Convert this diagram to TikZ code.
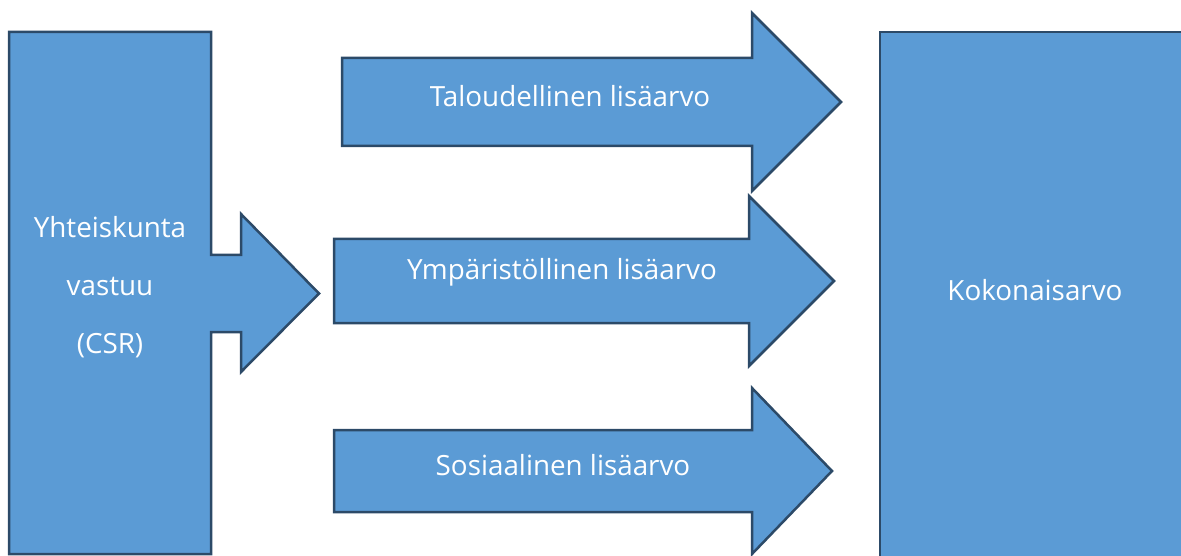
\documentclass[tikz,border=0pt]{standalone}
\usepackage{fontspec}
\setmainfont{Open Sans}
\definecolor{boxfill}{HTML}{5B9BD5}
\definecolor{boxline}{HTML}{2C4A68}
\begin{document}
\begin{tikzpicture}[x=1pt,y=-1pt,
  shapestyle/.style={fill=boxfill,draw=boxline,line width=2.5pt,line join=miter},
  lbl/.style={text=white,font=\fontsize{27.8}{58}\selectfont,align=center,inner sep=0pt}]
\useasboundingbox (0,0) rectangle (1181,556);
% left box with arrow
\draw[shapestyle] (9,32) -- (211,32) -- (211,255) -- (241,255) -- (241,214) -- (319,293.5)
  -- (241,372) -- (241,332) -- (211,332) -- (211,554) -- (9,554) -- cycle;
% arrows
\draw[shapestyle] (342,58) -- (752,58) -- (752,13) -- (841,102) -- (752,191) -- (752,146) -- (342,146) -- cycle;
\draw[shapestyle] (334,239) -- (749,239) -- (749,196) -- (834,281) -- (749,366) -- (749,323) -- (334,323) -- cycle;
\draw[shapestyle] (334,430) -- (752,430) -- (752,388) -- (832,471) -- (752,554) -- (752,512) -- (334,512) -- cycle;
% right box
\draw[shapestyle] (880,32) rectangle (1195,570);
% labels
\node[lbl] (csr) at (110,287) {Yhteiskunta\\vastuu\\(CSR)};
\node[lbl] (tal) at (570,96) {Taloudellinen lisäarvo};
\node[lbl] (ymp) at (562,272) {Ympäristöllinen lisäarvo};
\node[lbl] (sos) at (563,465) {Sosiaalinen lisäarvo};
\node[lbl] (kok) at (1035,290) {Kokonaisarvo};
\end{tikzpicture}
\end{document}
